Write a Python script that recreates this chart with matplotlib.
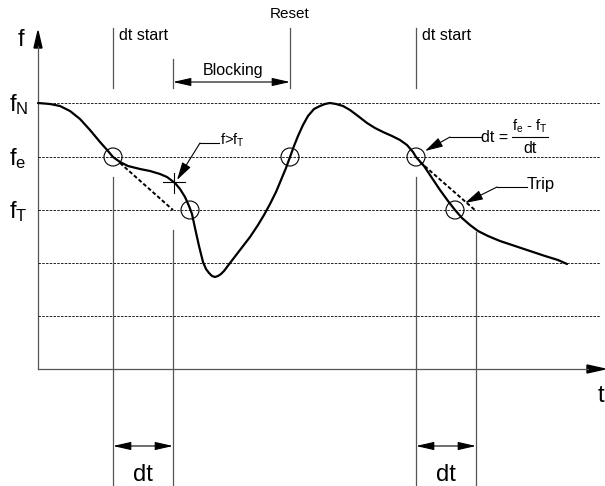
import matplotlib
matplotlib.use("Agg")
import matplotlib.pyplot as plt
from matplotlib.patches import Circle, Polygon

plt.rcParams['font.family'] = ['Liberation Sans', 'DejaVu Sans']
plt.rcParams['mathtext.fontset'] = 'custom'
plt.rcParams['mathtext.rm'] = 'Liberation Sans'
plt.rcParams['mathtext.it'] = 'Liberation Sans'

# ---- data (figure pixel coordinates) ----
curve_x = [38, 50, 60, 70, 80, 90, 100, 108, 113, 120, 128, 140, 150, 160, 167, 175,
           180, 185, 189, 192, 195, 199, 203, 206, 209, 212, 215, 218, 221, 224, 227,
           230, 240, 250, 258, 264, 270, 276, 281, 286, 290, 294, 298, 303, 308, 314,
           320, 325, 330, 336, 343, 350, 358, 367, 375, 383, 392, 400, 407, 413, 416,
           424, 432, 440, 448, 455, 462, 470, 478, 488, 500, 515, 530, 545, 558, 567]
curve_y = [103, 104, 106, 111, 119, 130, 142, 151, 157, 162, 166, 169, 171, 174, 177, 183,
           189, 197, 206, 214, 228, 246, 262, 269, 273, 276, 277, 276, 274, 271, 267,
           263, 250, 237, 225, 215, 204, 192, 180, 168, 157, 146, 136, 125, 116, 109,
           106, 104, 103, 104, 106, 110, 116, 123, 128, 132, 136, 140, 145, 152, 157,
           166, 178, 190, 201, 210, 218, 225, 231, 236, 241, 246, 251, 256, 260, 264]
level_y = [103, 157, 210, 263, 316]
level_labels = ['N', 'e', 'T']
circle_pts = [(113, 157), (190, 210), (290, 157), (416, 157), (455, 210)]
tangent_lines = [((120, 163), (173, 210)), ((420, 162), (476, 211))]
dt_pairs = [(113, 173), (416, 476)]

W, H = 605, 486
fig = plt.figure(figsize=(W / 100, H / 100), dpi=100)
ax = fig.add_axes([0, 0, 1, 1])
ax.set_xlim(0, W)
ax.set_ylim(H, 0)
ax.axis('off')

grey = '#555555'

# axes
ax.plot([38, 38], [369, 46], color=grey, lw=0.9)
ax.plot([38, 588], [369, 369], color=grey, lw=0.9)
ax.add_patch(Polygon([(34, 48), (42, 48), (38, 31)], closed=True, color='black'))
ax.add_patch(Polygon([(587, 365), (587, 373), (605, 369)], closed=True, color='black'))

# horizontal dashed levels
for y in level_y:
    ax.plot([38, 600], [y, y], color='black', lw=0.6, ls=(0, (3, 1.5)))

# vertical lines
top_segments = [(113, 28, 88), (173, 59, 88), (290, 28, 88), (416, 28, 88)]
for x, y0, y1 in top_segments:
    ax.plot([x, x], [y0, y1], color=grey, lw=0.9)
low_segments = [(113, 177), (173, 230), (416, 177), (476, 232)]
for x, y0 in low_segments:
    ax.plot([x, x], [y0, H], color=grey, lw=0.9)

# curve
ax.plot(curve_x, curve_y, color='black', lw=1.6, solid_capstyle='round',
        solid_joinstyle='round')

# tangents
for (p0, p1) in tangent_lines:
    ax.plot([p0[0], p1[0]], [p0[1], p1[1]], color='black', lw=1.4, ls=(0, (2, 1.2)))

# circles
for (cx, cy) in circle_pts:
    ax.add_patch(Circle((cx, cy), 9, fill=False, ec='black', lw=0.8))

# plus marker
ax.plot([163, 185], [182, 182], color='black', lw=0.8)
ax.plot([174, 174], [173, 193], color='black', lw=0.8)

def dim_arrow(x0, x1, y):
    ax.annotate('', xy=(x0, y), xytext=(x1, y),
                arrowprops=dict(arrowstyle='<|-|>,head_length=1.1,head_width=0.25',
                                color='black', lw=0.8, shrinkA=0, shrinkB=0))

# dt dimension arrows
for (a, b) in dt_pairs:
    dim_arrow(a, b, 446)
    ax.text((a + b) / 2, 475, 'dt', fontsize=17, ha='center', va='center')

# blocking
dim_arrow(173, 290, 82)
ax.text(233, 70, 'Blocking', fontsize=11.5, ha='center', va='center')

# top texts
ax.text(290, 14, 'Reset', fontsize=11, ha='center', va='center')
ax.text(119, 35, 'dt start', fontsize=11.5, ha='left', va='center')
ax.text(422, 35, 'dt start', fontsize=11.5, ha='left', va='center')

# axis labels
ax.text(21, 40, 'f', fontsize=17, ha='center', va='center')
ax.text(601, 396, 't', fontsize=17, ha='center', va='center')
for y, lab in zip(level_y[:3], level_labels):
    ax.text(9, y + 2, r'$\mathrm{f}_{\mathrm{%s}}$' % lab, fontsize=17, ha='left', va='center')

def leader(tip, knee, end):
    ax.plot([knee[0], end[0]], [knee[1], end[1]], color='black', lw=0.8)
    ax.annotate('', xy=tip, xytext=knee,
                arrowprops=dict(arrowstyle='-|>,head_length=1.1,head_width=0.3',
                                color='black', lw=0.8, shrinkA=0, shrinkB=0))

leader((177, 180), (200, 143), (219, 143))
ax.text(220, 140, r'f>f$_\mathrm{T}$', fontsize=10.5, ha='left', va='center')

leader((425, 151), (450, 137), (481, 137))
ax.text(481, 137, 'dt =', fontsize=11.5, ha='left', va='center')
ax.plot([512, 548], [137, 137], color='black', lw=0.8)
ax.text(530, 126, r'f$_\mathrm{e}$ - f$_\mathrm{T}$', fontsize=10.5, ha='center', va='center')
ax.text(530, 148, 'dt', fontsize=11.5, ha='center', va='center')

leader((465, 203), (497, 187), (527, 187))
ax.text(527, 184, 'Trip', fontsize=12, ha='left', va='center')

fig.savefig('out.png', dpi=100)
